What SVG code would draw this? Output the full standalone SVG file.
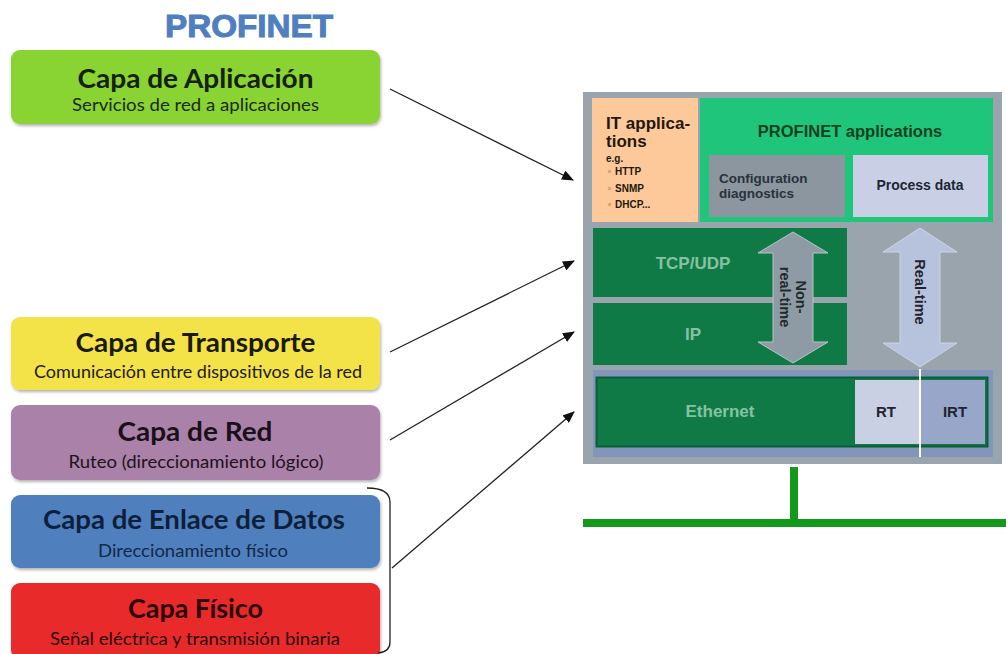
<svg xmlns="http://www.w3.org/2000/svg" width="1006" height="654" viewBox="0 0 1006 654">
<defs>
<marker id="ah" markerWidth="12" markerHeight="10" refX="11" refY="5" orient="auto" markerUnits="userSpaceOnUse">
<path d="M0,0 L12,5 L0,10 Z" fill="#111"/>
</marker>
<filter id="sh" x="-5%" y="-10%" width="110%" height="130%">
<feDropShadow dx="1" dy="2" stdDeviation="1.5" flood-color="#000" flood-opacity="0.3"/>
</filter>
</defs>
<style>
.lt{font-family:Lato,"Open Sans","Liberation Sans",sans-serif;font-weight:bold;font-size:26px;text-anchor:middle}
.ls{font-family:Lato,"Open Sans","Liberation Sans",sans-serif;font-size:16.5px;text-anchor:middle}
.ar{font-family:"Liberation Sans",Arial,sans-serif;font-weight:bold}
.conn{stroke:#222;stroke-width:1.3;fill:none}
.box{filter:url(#sh)}
</style>
<rect width="1006" height="654" fill="#fff"/>

<text x="165" y="37" class="ar" font-size="31" fill="#4f7fc0" stroke="#4f7fc0" stroke-width="1" textLength="168" lengthAdjust="spacingAndGlyphs">PROFINET</text>

<g id="capa-aplicacion">
<rect class="box" x="11" y="50" width="369" height="74" rx="9" fill="#89d331"/>
<text x="195.5" y="88" class="lt" fill="#15200a" textLength="236" lengthAdjust="spacingAndGlyphs">Capa de Aplicación</text>
<text x="195.5" y="111" class="ls" fill="#1c2a10" textLength="247" lengthAdjust="spacingAndGlyphs">Servicios de red a aplicaciones</text>
</g>

<g id="capa-transporte">
<rect class="box" x="11" y="317" width="369" height="73" rx="9" fill="#f4e24a"/>
<text x="195.5" y="352" class="lt" fill="#1a1a08" textLength="240" lengthAdjust="spacingAndGlyphs">Capa de Transporte</text>
<text x="198" y="378" class="ls" fill="#222010" textLength="328" lengthAdjust="spacingAndGlyphs">Comunicación entre dispositivos de la red</text>
</g>

<g id="capa-red">
<rect class="box" x="11" y="405" width="369" height="75" rx="9" fill="#aa81a8"/>
<text x="195" y="441" class="lt" fill="#1a0f1a" textLength="155" lengthAdjust="spacingAndGlyphs">Capa de Red</text>
<text x="196" y="468" class="ls" fill="#1e121e" textLength="255" lengthAdjust="spacingAndGlyphs">Ruteo (direccionamiento lógico)</text>
</g>

<g id="capa-enlace">
<rect class="box" x="11" y="495" width="369" height="73" rx="9" fill="#4f80bd"/>
<text x="194" y="529" class="lt" fill="#0d1f3a" textLength="302" lengthAdjust="spacingAndGlyphs">Capa de Enlace de Datos</text>
<text x="193" y="557" class="ls" fill="#12284a" textLength="190" lengthAdjust="spacingAndGlyphs">Direccionamiento físico</text>
</g>

<g id="capa-fisico">
<rect class="box" x="11" y="583" width="369" height="76" rx="9" fill="#e8292a"/>
<text x="195.5" y="618" class="lt" fill="#2a0606" textLength="135" lengthAdjust="spacingAndGlyphs">Capa Físico</text>
<text x="195" y="645" class="ls" fill="#2a0808" textLength="290" lengthAdjust="spacingAndGlyphs">Señal eléctrica y transmisión binaria</text>
</g>

<g id="profinet-stack">
<rect x="583" y="92" width="419" height="372" fill="#99a4ad"/>
<rect x="592" y="98" width="106" height="124" fill="#fdc99b"/>
<text x="606" y="129" class="ar" font-size="17" fill="#24180c">IT applica-</text>
<text x="606" y="147" class="ar" font-size="17" fill="#24180c">tions</text>
<text x="606" y="162" class="ar" font-size="10" fill="#24180c">e.g.</text>
<circle cx="609.5" cy="171.5" r="1.8" fill="#e6a370"/>
<circle cx="609.5" cy="188.5" r="1.8" fill="#e6a370"/>
<circle cx="609.5" cy="204.5" r="1.8" fill="#e6a370"/>
<text x="615" y="175" class="ar" font-size="10" fill="#24180c">HTTP</text>
<text x="615" y="192" class="ar" font-size="10" fill="#24180c">SNMP</text>
<text x="615" y="208" class="ar" font-size="10" fill="#24180c">DHCP...</text>

<rect x="700" y="98" width="293" height="124" fill="#1fc57a"/>
<text x="850" y="137" class="ar" font-size="16.5" fill="#0d3f22" text-anchor="middle">PROFINET applications</text>
<rect x="709" y="155" width="136" height="62" fill="#8b969e"/>
<text x="719" y="183" class="ar" font-size="13.5" fill="#29313d">Configuration</text>
<text x="719" y="198" class="ar" font-size="13.5" fill="#29313d">diagnostics</text>
<rect x="853" y="155" width="135" height="62" fill="#c9d0e6"/>
<text x="920" y="190" class="ar" font-size="14" fill="#202634" text-anchor="middle">Process data</text>

<rect x="593" y="228" width="254" height="69" fill="#0f7a46"/>
<text x="693" y="269" class="ar" font-size="17" fill="#86c2a2" text-anchor="middle">TCP/UDP</text>
<rect x="593" y="303" width="254" height="62" fill="#0f7a46"/>
<text x="693" y="340" class="ar" font-size="17" fill="#86c2a2" text-anchor="middle">IP</text>

<rect x="593" y="370" width="400" height="87" fill="#8196b9"/>
<rect x="596.5" y="377.5" width="391" height="69" fill="#0f7a46" stroke="#0a5e35" stroke-width="2"/>
<text x="720" y="417" class="ar" font-size="17" fill="#86c2a2" text-anchor="middle">Ethernet</text>
<rect x="855" y="380" width="65" height="64" fill="#c9d0e3"/>
<rect x="920" y="380" width="65" height="64" fill="#98a6c9"/>
<text x="886" y="417" class="ar" font-size="15" fill="#1f2430" text-anchor="middle">RT</text>
<text x="955" y="417" class="ar" font-size="15" fill="#1f2430" text-anchor="middle">IRT</text>
<line x1="920" y1="369" x2="920" y2="457" stroke="#fff" stroke-width="2"/>

<polygon points="793,232 828,253 813,253 813,342 828,342 793,363 758,342 773,342 773,253 758,253" fill="#8e9ba4" stroke="#b9c3ca" stroke-width="1"/>
<g transform="translate(793,297) rotate(90)">
<text x="0" y="-3" class="ar" font-size="14.5" fill="#1f2a2c" text-anchor="middle">Non-</text>
<text x="0" y="13" class="ar" font-size="14.5" fill="#1f2a2c" text-anchor="middle">real-time</text>
</g>
<polygon points="920,228 957,252 940,252 940,343 957,343 920,367 883,343 900,343 900,252 883,252" fill="#b7c2dc" stroke="#cdd5e6" stroke-width="1"/>
<g transform="translate(920,292) rotate(90)">
<text x="0" y="5" class="ar" font-size="14.5" fill="#1f2430" text-anchor="middle">Real-time</text>
</g>
</g>

<g id="network-line">
<rect x="790" y="467" width="8" height="56" fill="#139a1c"/>
<rect x="583" y="519" width="423" height="8" fill="#139a1c"/>
</g>

<g id="connectors">
<line class="conn" x1="390" y1="89" x2="573" y2="180" marker-end="url(#ah)"/>
<line class="conn" x1="390" y1="352" x2="574" y2="261" marker-end="url(#ah)"/>
<line class="conn" x1="390" y1="440" x2="574" y2="332" marker-end="url(#ah)"/>
<line class="conn" x1="392" y1="568" x2="574" y2="412" marker-end="url(#ah)"/>
<path class="conn" d="M367,488 Q390,488 390,502 L390,642 Q390,652 378,653"/>
</g>
</svg>
